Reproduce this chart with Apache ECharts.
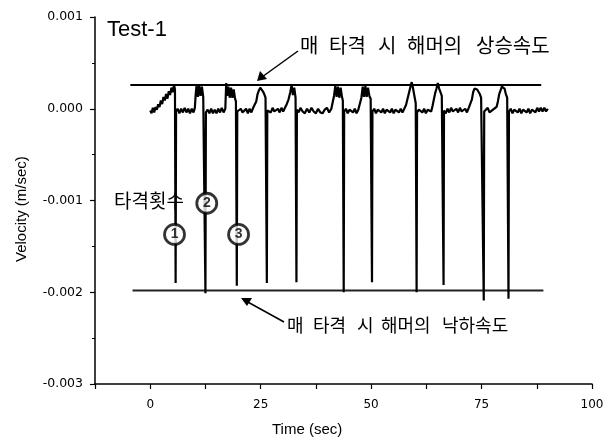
<!DOCTYPE html>
<html>
<head>
<meta charset="utf-8">
<script src="https://cdn.jsdelivr.net/npm/echarts@6/dist/echarts.min.js"></script>
<style>html,body{margin:0;padding:0;background:#fff}#c{width:609px;height:441px}</style>
</head>
<body>
<div id="c"></div>
<script>
// ---- data ----
const xTicks = [0, 25, 50, 75, 100];
const yTicks = [0.001, 0.000, -0.001, -0.002, -0.003];
// velocity trace [time (sec), velocity (m/sec)]
const samples = [
  [0.0,-0.00002],[0.3,-0.00005],[0.6,0.00001],[0.9,-0.00004],[1.2,0.00002],[1.5,-0.00001],[1.8,0.00005],[2.1,0.00002],
  [2.4,0.00009],[2.7,0.00005],[3.0,0.00013],[3.3,0.00009],[3.6,0.00016],[3.9,0.00011],[4.2,0.00019],[4.5,0.00015],
  [4.8,0.00023],[5.1,0.00018],[5.4,0.00026],[5.6,0.00021],[5.75,-0.0019],[5.85,-0.00003],
  [6.2,0.0],[6.6,-0.00005],[7.0,0.0],[7.4,-0.00004],[7.8,0.00001],[8.2,-0.00004],[8.6,0.0],[9.0,-0.00005],
  [9.4,0.0],[9.8,-0.00004],[10.1,0.00001],[10.3,0.00016],[10.5,0.00026],[10.8,0.00013],[11.1,0.00025],[11.4,0.00014],
  [11.7,0.00024],[12.0,0.00013],[12.3,0.00012],[12.5,-0.00201],[12.6,-0.00004],
  [13.0,-0.00001],[13.4,-0.00005],[13.8,0.0],[14.2,-0.00005],[14.6,-0.00001],[15.0,-0.00005],[15.4,0.0],
  [15.8,-0.00004],[16.2,0.00001],[16.6,-0.00004],[17.0,0.0],[17.2,0.00028],[17.4,0.00014],[17.7,0.00024],[18.0,0.00012],
  [18.3,0.00023],[18.6,0.00012],[18.9,0.00021],[19.2,0.00011],[19.4,0.00008],[19.6,-0.00193],[19.7,-0.00003],
  [20.1,-0.00005],[20.5,0.0],[20.9,-0.00004],[21.3,-0.00005],[21.7,0.0],[22.1,-0.00005],[22.5,0.0],
  [22.9,-0.00004],[23.3,0.00001],[23.7,0.0],[24.0,0.00008],[24.3,0.00016],[24.6,0.0002],[24.9,0.00023],[25.2,0.00021],
  [25.5,0.00019],[25.8,0.00016],[26.1,0.00012],[26.3,0.0001],[26.4,-0.0019],[26.5,-0.00002],
  [26.9,0.0],[27.3,-0.00004],[27.7,0.00001],[28.1,-0.00003],[28.5,-0.00005],[28.9,0.0],[29.3,-0.00004],[29.7,0.00001],
  [30.1,-0.00003],[30.5,0.00001],[30.9,0.00005],[31.3,0.0001],[31.7,0.00018],[32.0,0.00026],[32.3,0.00015],[32.6,0.00023],
  [32.9,0.00012],[33.1,-0.00189],[33.2,-0.00001],
  [33.6,-0.00004],[34.0,0.00001],[34.5,-0.00003],[35.0,-0.00005],[35.5,0.0],[36.0,-0.00004],[36.5,0.00001],[37.0,-0.00003],
  [37.5,-0.00005],[38.0,0.0],[38.5,-0.00004],[39.0,-0.00005],[39.5,-0.00001],[40.0,0.00001],[40.5,-0.00004],[41.0,0.0],
  [41.4,0.00002],[41.6,0.00014],[41.9,0.00025],[42.2,0.00013],[42.5,0.00024],[42.8,0.00012],[43.1,0.00023],[43.4,0.00013],
  [43.6,0.00009],[43.8,-0.002],[43.9,-0.00003],
  [44.3,0.0],[44.7,-0.00005],[45.1,-0.00001],[45.5,0.00001],[45.9,-0.00004],[46.3,0.0],[46.7,-0.00005],[47.1,-0.00001],
  [47.5,0.00001],[47.8,0.00012],[48.1,0.00024],[48.4,0.00013],[48.7,0.00025],[49.0,0.00013],[49.3,0.00023],[49.6,0.00014],
  [49.9,0.00011],[50.2,-0.00189],[50.3,-0.00003],
  [50.7,0.0],[51.1,-0.00005],[51.5,-0.00001],[51.9,0.00001],[52.3,-0.00004],[52.7,0.0],[53.1,-0.00005],[53.5,-0.00001],
  [53.9,0.00001],[54.3,-0.00004],[54.7,0.0],[55.1,-0.00005],[55.5,-0.00001],[55.9,0.00001],[56.3,-0.00004],[56.7,0.0],
  [57.1,-0.00004],[57.5,0.0],[57.9,0.00004],[58.3,0.00012],[58.7,0.0002],[59.0,0.00026],[59.2,0.00029],[59.5,0.00022],
  [59.8,0.00014],[60.1,0.00006],[60.3,-0.002],[60.4,-0.00004],
  [60.8,-0.00001],[61.2,0.00001],[61.6,-0.00004],[62.0,0.0],[62.4,-0.00005],[62.8,-0.00001],[63.2,0.00001],[63.6,-0.00003],
  [63.9,0.00003],[64.2,0.0001],[64.5,0.00017],[64.8,0.00022],[65.1,0.00028],[65.4,0.00022],[65.7,0.00018],[66.0,0.00014],
  [66.2,0.00012],[66.4,-0.00192],[66.5,-0.00002],
  [66.9,-0.00005],[67.3,0.0],[67.7,-0.00004],[68.1,0.00001],[68.5,-0.00003],[68.9,-0.00005],[69.3,0.0],[69.7,-0.00004],
  [70.1,0.00001],[70.5,-0.00003],[70.9,-0.00005],[71.3,0.0],[71.7,-0.00004],[72.1,0.00001],[72.5,0.00003],[72.8,0.0001],
  [73.1,0.00018],[73.4,0.00022],[73.7,0.00023],[74.0,0.00021],[74.3,0.00019],[74.6,0.00016],[74.9,0.00012],[75.2,0.0001],
  [75.5,-0.00209],[75.6,-0.00003],
  [76.0,-0.00001],[76.4,0.00001],[76.8,-0.00004],[77.2,-0.00005],[77.6,-0.00001],[78.0,0.00001],[78.4,0.00002],[78.7,0.00008],
  [79.0,0.00016],[79.3,0.0002],[79.6,0.00024],[79.9,0.00026],[80.2,0.00022],[80.5,0.00016],[80.8,0.00012],[81.1,-0.00207],
  [81.2,-0.00003],
  [81.6,0.0],[82.0,-0.00005],[82.4,-0.00001],[82.8,0.00001],[83.2,-0.00004],[83.6,0.0],[84.0,-0.00005],[84.4,-0.00001],
  [84.8,0.00001],[85.2,-0.00004],[85.6,0.0],[86.0,-0.00005],[86.4,-0.00001],[86.8,0.00001],[87.2,-0.00004],[87.6,0.00001],
  [88.0,-0.00003],[88.4,0.00001],[88.8,-0.00003],[89.2,0.00001],[89.6,-0.00003],[90.0,0.0]
];
// guide lines: hammer rising speed and falling speed
const riseLine = [[-4.5, 0.00026], [88.5, 0.00026]];
const fallLine = [[-4, -0.00198], [89, -0.00198]];
// strike-number markers [time, velocity, label]
const strikeMarks = [[5.5, -0.00137, '1'], [12.8, -0.00103, '2'], [20.0, -0.00137, '3']];
// annotation words [text, left, top]
const riseWords = [['매', 300, 35], ['타격', 329, 35], ['시', 378, 35], ['해머의', 407, 35], ['상승속도', 476, 35]];
const fallWords = [['매', 287, 316], ['타격', 313, 316], ['시', 357, 316], ['해머의', 381, 316], ['낙하속도', 442, 316]];

const KR = '"Noto Sans CJK KR", sans-serif';
const wordText = (w, size) => ({type: 'text', left: w[1], top: w[2], style: {text: w[0], font: size + 'px ' + KR, fill: '#000'}});

const chart = echarts.init(document.getElementById('c'), null, {renderer: 'canvas'});
const option = {
  animation: false,
  backgroundColor: '#fff',
  grid: {left: 95, right: 17, top: 17, bottom: 57, containLabel: false},
  xAxis: {
    type: 'value', min: -12.5, max: 100, interval: 12.5,
    axisLine: {onZero: false, lineStyle: {color: '#000', width: 1.5}},
    axisTick: {length: 5, lineStyle: {color: '#000', width: 1.2}},
    splitLine: {show: false},
    axisLabel: {
      color: '#000', fontFamily: 'DejaVu Sans', fontSize: 12, margin: 15,
      formatter: v => (xTicks.indexOf(v) >= 0 ? String(v) : '')
    }
  },
  yAxis: {
    type: 'value', min: -0.003, max: 0.001, interval: 0.001,
    axisLine: {show: true, onZero: false, lineStyle: {color: '#000', width: 1.5}},
    axisTick: {show: true, length: 5, lineStyle: {color: '#000', width: 1.2}},
    minorTick: {show: true, splitNumber: 2, length: 3, lineStyle: {color: '#000'}},
    splitLine: {show: false},
    axisLabel: {
      color: '#000', fontFamily: 'DejaVu Sans', fontSize: 12.5, margin: 12,
      formatter: v => {
        const t = yTicks.find(k => Math.abs(k - v) < 1e-9);
        return t === undefined ? '' : t.toFixed(3);
      }
    }
  },
  series: [
    {type: 'line', data: riseLine, showSymbol: false, lineStyle: {color: '#000', width: 2}},
    {type: 'line', data: fallLine, showSymbol: false, lineStyle: {color: '#222', width: 2}},
    {type: 'line', data: samples, showSymbol: false, lineStyle: {color: '#000', width: 2.2}},
    {
      type: 'scatter', data: strikeMarks, symbol: 'circle', symbolSize: 20,
      itemStyle: {color: '#fff', borderColor: '#000', borderWidth: 2.8},
      label: {show: true, position: 'inside', formatter: p => p.value[2], color: '#000',
        fontFamily: 'Liberation Sans', fontWeight: 'bold', fontSize: 14},
      z: 5
    }
  ],
  graphic: [
    {type: 'text', left: 107, top: 19, style: {text: 'Test-1', font: '22px "Liberation Sans"', fill: '#000'}},
    ...riseWords.map(w => wordText(w, 20)),
    ...fallWords.map(w => wordText(w, 18)),
    {type: 'text', left: 114, top: 191, style: {text: '타격횟수', font: '19px ' + KR, fill: '#000'}},
    {type: 'text', left: 272, top: 422, style: {text: 'Time (sec)', font: '15px "Liberation Sans"', fill: '#000'}},
    {type: 'text', x: 14, y: 262, rotation: Math.PI / 2, style: {text: 'Velocity (m/sec)', font: '15px "Liberation Sans"', fill: '#000'}},
    {type: 'line', shape: {x1: 298, y1: 51, x2: 262, y2: 77}, style: {stroke: '#000', lineWidth: 1.5}},
    {type: 'polygon', shape: {points: [[257, 81], [260, 71], [267, 79]]}, style: {fill: '#000'}},
    {type: 'line', shape: {x1: 284, y1: 322, x2: 246, y2: 301}, style: {stroke: '#000', lineWidth: 1.5}},
    {type: 'polygon', shape: {points: [[241, 298], [252, 298], [247, 306]]}, style: {fill: '#000'}}
  ]
};
chart.setOption(option);
</script>
</body>
</html>
